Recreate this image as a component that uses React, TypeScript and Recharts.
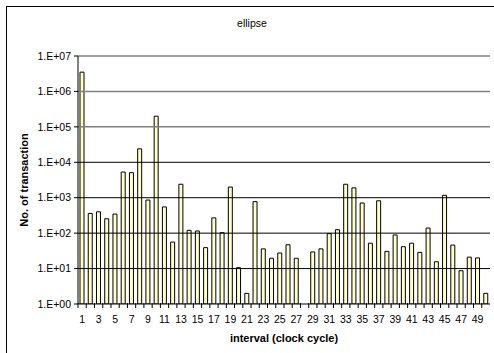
import React from 'react';
import { BarChart, Bar, XAxis, YAxis, ReferenceLine } from 'recharts';

const intervals = [
  1, 2, 3, 4, 5, 6, 7, 8, 9, 10,
  11, 12, 13, 14, 15, 16, 17, 18, 19, 20,
  21, 22, 23, 24, 25, 26, 27, 28, 29, 30,
  31, 32, 33, 34, 35, 36, 37, 38, 39, 40,
  41, 42, 43, 44, 45, 46, 47, 48, 49, 50,
];

const transactions: (number | null)[] = [
  3500000, 360, 400, 255, 345, 5300, 5100, 24000, 860, 200000,
  550, 56, 2400, 120, 115, 39, 270, 103, 2000, 10.6,
  2, 775, 36, 19.5, 27.5, 47, 19.5, null, 29.5, 36,
  97, 125, 2400, 1900, 710, 52, 820, 30.5, 89, 41.5,
  52, 28.6, 139, 15.6, 1170, 46, 8.7, 21, 20, 2,
];

const yTicks = [1, 10, 100, 1000, 10000, 100000, 1000000, 10000000];

const data = intervals.map((c, i) => ({ interval: c, value: transactions[i] }));

const W = 494;
const H = 353;
const M = { top: 56, right: 4, left: 0, bottom: 0 };
const Y_AXIS_W = 78;
const X_AXIS_H = 49;
const FONT = '"Liberation Sans", Arial, sans-serif';
const plotW = W - M.left - M.right - Y_AXIS_W;
const band = plotW / intervals.length;

const fmt = (v: number) => {
  const e = Math.round(Math.log10(v));
  return `1.E+${e < 10 ? '0' + e : e}`;
};

const XTick = (props: any) => {
  const { x, y, payload, index } = props;
  const left = x - band / 2;
  return (
    <g>
      <line x1={left} x2={left} y1={y - 1} y2={y + 4} stroke="#000" strokeWidth={1} />
      {index % 2 === 0 ? (
        <text x={x} y={y + 19} textAnchor="middle" fontSize={10.5} fontFamily={FONT} fill="#000">
          {payload.value}
        </text>
      ) : null}
    </g>
  );
};

export default function App() {
  return (
    <div style={{ position: 'absolute', left: 0, top: 0, width: W, height: H, overflow: 'hidden', background: '#fff' }}>
      <div
        style={{
          position: 'absolute',
          left: 6,
          top: 6,
          width: W,
          height: H,
          borderLeft: '1px solid #000',
          borderTop: '1px solid #000',
          boxSizing: 'border-box',
        }}
      />
      <div style={{ position: 'absolute', left: 0, top: 0 }}>
        <BarChart width={W} height={H} data={data} margin={M} barCategoryGap={0}>
          <XAxis
            dataKey="interval"
            xAxisId={0}
            height={X_AXIS_H}
            interval={0}
            tickLine={false}
            tickSize={0}
            tickMargin={0}
            axisLine={{ stroke: '#000', strokeWidth: 1 }}
            tick={<XTick />}
          />
          <YAxis
            yAxisId={0}
            scale="log"
            domain={[1, 10000000]}
            allowDataOverflow
            ticks={yTicks}
            tickFormatter={fmt}
            width={Y_AXIS_W}
            tickSize={4}
            tickMargin={3}
            tickLine={{ stroke: '#000' }}
            axisLine={{ stroke: '#000', strokeWidth: 1 }}
            tick={{ fontSize: 10.5, fontFamily: FONT, fill: '#000' }}
            interval={0}
          />
          <YAxis
            yAxisId="r"
            orientation="right"
            width={0}
            tick={false}
            tickLine={false}
            axisLine={{ stroke: '#8a8a8a', strokeWidth: 1.5 }}
          />
          {yTicks.slice(1).map((t) => (
            <ReferenceLine
              key={t}
              y={t}
              yAxisId={0}
              stroke={t >= 100000 ? '#7f7f7f' : '#000'}
              strokeWidth={t >= 100000 ? 1.5 : 1}
              ifOverflow="extendDomain"
            />
          ))}
          <Bar
            dataKey="value"
            yAxisId={0}
            fill="#FFFFCC"
            stroke="#000"
            strokeWidth={1}
            barSize={4}
            isAnimationActive={false}
          />
        </BarChart>
      </div>
      <svg
        width={W}
        height={H}
        style={{ position: 'absolute', left: 0, top: 0, pointerEvents: 'none' }}
      >
        <text x={252} y={27} textAnchor="middle" fontSize={10.5} fontFamily={FONT} fill="#000">
          ellipse
        </text>
        <text x={284} y={342} textAnchor="middle" fontSize={11} fontWeight="bold" fontFamily={FONT} fill="#000">
          interval (clock cycle)
        </text>
        <text
          x={0}
          y={0}
          transform="translate(28,180) rotate(-90)"
          textAnchor="middle"
          fontSize={11}
          fontWeight="bold"
          fontFamily={FONT}
          fill="#000"
        >
          No. of transaction
        </text>
      </svg>
    </div>
  );
}
